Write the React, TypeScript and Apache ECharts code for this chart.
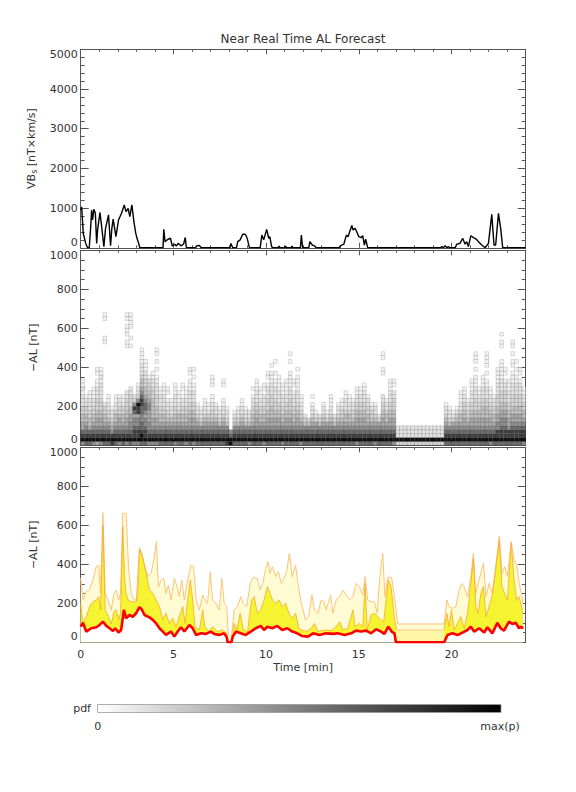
import { useEffect, useRef } from "react";
import * as echarts from "echarts";

// ---------- DATA ----------
// Panel 1: VBs [nT x km/s] vs time [min]
const vbsData: number[][] = [
  [0, 950], [0.05, 1030], [0.14, 360], [0.27, 110], [0.37, 0], [0.46, 0], [0.54, 530], [0.59, 950], [0.64, 700],
  [0.71, 970], [0.79, 870], [0.86, 110], [0.91, 450], [1.04, 890], [1.14, 490], [1.25, 30], [1.34, 490], [1.5, 830],
  [1.61, 50], [1.68, 490], [1.75, 720], [1.9, 280], [2.04, 700], [2.2, 870], [2.35, 1080], [2.44, 910], [2.56, 990],
  [2.65, 785], [2.76, 1080], [2.87, 660], [2.97, 365], [3.05, 220], [3.1, 155], [3.19, 0], [4.44, 0], [4.48, 465],
  [4.55, 155], [4.71, 215], [4.84, 240], [4.94, 45], [5.07, 90], [5.16, 45], [5.25, 110], [5.43, 50], [5.55, 95],
  [5.64, 260], [5.7, 0], [6.2, 0], [6.24, 45], [6.4, 60], [6.5, 0], [8.05, 0], [8.1, 110], [8.2, 0], [8.4, 0],
  [8.47, 155], [8.6, 200], [8.74, 340], [8.85, 340], [8.93, 300], [9.0, 200], [9.1, 0], [9.68, 0], [9.77, 320],
  [9.87, 200], [10.03, 465], [10.14, 240], [10.2, 280], [10.3, 25], [10.4, 0], [10.65, 0], [10.7, 40], [10.75, 0],
  [11.0, 0], [11.05, 40], [11.1, 0], [11.35, 0], [11.4, 40], [11.45, 0], [11.85, 0], [11.9, 320], [11.97, 0],
  [12.3, 0], [12.36, 155], [12.49, 70], [12.6, 50], [12.7, 0], [13.95, 0], [14.0, 50], [14.19, 90], [14.33, 320],
  [14.42, 280], [14.5, 390], [14.62, 560], [14.69, 450], [14.8, 490], [14.9, 390], [15.0, 280], [15.12, 255],
  [15.21, 305], [15.3, 70], [15.37, 220], [15.48, 0], [19.4, 0], [19.48, 30], [19.56, 0], [19.66, 50], [19.75, 0],
  [19.84, 30], [19.9, 0], [20.2, 0], [20.28, 90], [20.46, 110], [20.6, 240], [20.73, 90], [20.82, 155], [20.91, 30],
  [21.04, 305], [21.18, 255], [21.33, 220], [21.45, 155], [21.63, 70], [21.81, 0], [21.99, 110], [22.17, 843],
  [22.29, 70], [22.38, 70], [22.53, 868], [22.65, 490], [22.76, 0], [24, 0],
];

// Panel 2: pdf of -AL. One string per 0.2-min column, one char per 20-nT bin (bottom first), 1..9 = density, space = empty
const PDF_DT = 0.2;
const PDF_DV = 20;
const pdfColumns: string[] = [
  "69875544332221211", "7987654433221", "79875443322211", "698765443322111", "59876554433322211 11",
  "69876554433322221211", "79876544332               11    11", "7987654332211", "8986543221", "7987654432211",
  "6987655433221", "7987654433211", "69876554433322           11 111 11", "798766554433322          1 1  1111", "6988766578632",
  "6988766588963221", "7998776677887654432221111", "7988766567765443322111", "698766555665443321", "6987655444443332211",
  "698765544433322211 1 1 11", "798765443322211", "7987654433222111", "798765433221 11", "798765432211",
  "6987654433222111", "79876544322111", "7987654433221 11", "698765443322111", "79876554433222111 11",
  "6987655443322211 1 1", "79876543221", "7987643221", "798765432211", "79876543211",
  "7987654332211  111", "79876543221", "7987643221", "798765432211   11", "8987643221",
  "9976", "798764321", "7987643221", "798765432211", "7987643221",
  "698764322", "7987654433221 1", "79876554433222111", "798765443322111", "6987654433222 11",
  "7987655443332221 11", "7987655444333222111 1", "79876554433322211 1  1", "798765544332221111", "6987654433222111",
  "79876554433221111", "7987655443332221111  1 1", "79876544332221 11", "798765544332221111 1", "6987654332211",
  "79876432", "7987643", "79876543221 1", "798765321", "79876432",
  "79876543221", "798765321", "7987654322111", "79876432", "79876543221",
  "798765433211", "79876544322211", "7987654432211", "798765433221", "698765544332211",
  "798765544332211", "7987655443322211", "7987654433221", "79876543321", "69876543221",
  "79876532", "7987655443322     11  11", "798765443221", "79876554433222111", "69876554433322 11",
  "39222", "39222", "39222", "39222", "39222",
  "39222", "39222", "39222", "39222", "39222",
  "39222", "39222", "39222", "79876543221", "7987643221",
  "798765321", "7987654321", "79876544322111", "798765544332211", "798765433221",
  "79876554433222111", "798765544333222111 1 111", "798765544332211", "798765544433222111", "79876554443322211 1 1111",
  "698765544332211", "7987654433221", "79886655443332221111", "7988766554433322211111   11 1", "79887665544333221 11",
  "79886554433222111", "7988765544333222111 11 1 11", "798876554433322211 1 1", "79887655443332221 11", "698876544332211",
];
// grey level for density 0..9
const PDF_GREYS = [255, 242, 228, 212, 192, 168, 140, 105, 62, 15];

// Panel 3: -AL forecast bands
const alPale: number[][] = [
  [0.0, 330], [0.13, 217], [0.3, 260], [0.48, 272], [0.66, 320], [0.84, 388], [0.97, 396], [1.07, 251], [1.2, 665],
  [1.32, 251], [1.47, 217], [1.65, 166], [1.79, 251], [1.92, 268], [2.04, 217], [2.15, 251], [2.27, 662], [2.45, 662],
  [2.58, 388], [2.72, 251], [2.9, 217], [3.08, 217], [3.17, 482], [3.3, 456], [3.44, 396], [3.62, 337], [3.8, 354],
  [3.94, 422], [4.08, 516], [4.19, 285], [4.34, 320], [4.48, 328], [4.6, 251], [4.73, 294], [4.87, 217], [5.05, 328],
  [5.2, 285], [5.32, 234], [5.45, 320], [5.59, 217], [5.73, 302], [5.95, 396], [6.09, 388], [6.23, 217], [6.4, 166],
  [6.58, 243], [6.7, 217], [6.84, 200], [6.99, 362], [7.11, 217], [7.29, 200], [7.47, 166], [7.61, 328], [7.74, 200],
  [7.88, 183], [7.95, 46], [8.13, 29], [8.28, 166], [8.46, 183], [8.63, 234], [8.78, 200], [8.96, 183], [9.14, 302],
  [9.32, 333], [9.53, 328], [9.68, 268], [9.82, 302], [9.98, 380], [10.11, 413], [10.21, 354], [10.34, 388],
  [10.52, 337], [10.66, 362], [10.82, 302], [10.97, 328], [11.11, 362], [11.25, 456], [11.41, 337], [11.59, 396],
  [11.72, 302], [11.9, 200], [12.04, 150], [12.11, 115], [12.29, 132], [12.47, 243], [12.61, 166], [12.79, 149],
  [12.97, 217], [13.12, 208], [13.24, 166], [13.48, 243], [13.6, 149], [13.78, 217], [13.96, 234], [14.14, 268],
  [14.32, 243], [14.5, 217], [14.68, 234], [14.86, 302], [15.03, 285], [15.21, 243], [15.34, 337], [15.48, 217],
  [15.66, 208], [15.84, 208], [15.99, 149], [16.13, 337], [16.29, 456], [16.41, 234], [16.56, 333], [16.77, 333],
  [16.92, 234], [17.1, 94], [19.6, 94], [19.75, 217], [19.87, 183], [20.05, 174], [20.23, 183], [20.41, 268],
  [20.53, 302], [20.68, 285], [20.86, 234], [21.04, 337], [21.18, 456], [21.31, 251], [21.43, 302], [21.58, 354],
  [21.72, 405], [21.86, 234], [22.02, 302], [22.2, 251], [22.38, 388], [22.58, 545], [22.72, 354], [22.87, 388],
  [23.01, 337], [23.22, 516], [23.37, 422], [23.51, 396], [23.64, 311], [23.78, 243], [23.85, 200],
];
const alYellowA: number[][] = [
  [0.0, 200], [0.12, 97], [0.3, 132], [0.48, 183], [0.66, 208], [0.84, 217], [0.97, 234], [1.07, 166], [1.2, 600],
  [1.32, 166], [1.5, 132], [1.65, 94], [1.79, 157], [1.92, 166], [2.04, 115], [2.15, 149], [2.27, 593], [2.37, 320],
  [2.45, 251], [2.55, 217], [2.72, 208], [3.0, 208], [3.17, 482], [3.35, 430], [3.53, 354], [3.71, 268], [3.89, 251],
  [4.07, 217], [4.25, 183], [4.43, 115], [4.6, 149], [4.78, 97], [4.96, 123], [5.14, 80], [5.32, 132], [5.5, 183],
  [5.63, 97], [5.77, 217], [5.91, 320], [6.04, 217], [6.16, 80], [6.4, 63], [6.58, 166], [6.7, 80], [6.93, 55],
  [7.11, 80], [7.38, 55], [7.65, 63], [7.88, 46], [7.95, 0], [8.13, 0], [8.28, 97], [8.42, 63], [8.6, 149], [8.78, 63],
  [9.0, 55], [9.21, 217], [9.35, 234], [9.53, 149], [9.71, 166], [9.89, 217], [10.07, 285], [10.21, 251], [10.34, 217],
  [10.52, 200], [10.7, 217], [10.87, 183], [11.05, 200], [11.23, 149], [11.41, 123], [11.59, 149], [11.77, 72],
  [11.9, 63], [12.17, 55], [12.44, 72], [12.61, 97], [12.79, 55], [13.15, 63], [13.51, 60], [13.78, 80], [13.96, 106],
  [14.14, 63], [14.41, 72], [14.68, 166], [14.8, 80], [15.03, 97], [15.21, 80], [15.34, 302], [15.45, 63], [15.66, 140],
  [15.84, 149], [16.02, 132], [16.2, 115], [16.34, 106], [16.59, 320], [16.74, 285], [16.92, 123], [17.03, 63],
];
const alYellowB: number[][] = [
  [19.6, 63], [19.75, 149], [19.87, 80], [20.0, 166], [20.14, 63], [20.32, 97], [20.5, 132], [20.68, 72], [20.86, 149],
  [21.04, 302], [21.18, 430], [21.31, 183], [21.43, 149], [21.58, 251], [21.72, 285], [21.86, 132], [22.02, 183],
  [22.2, 243], [22.38, 371], [22.58, 525], [22.72, 285], [22.87, 251], [23.01, 217], [23.22, 508], [23.37, 320],
  [23.51, 217], [23.64, 234], [23.78, 183], [23.85, 150],
];
const alGapBand: number[][] = [[17.03, 63], [19.6, 63]];
const alRed: number[][] = [
  [0.0, 80], [0.12, 100], [0.3, 55], [0.57, 72], [0.84, 77], [1.02, 89], [1.2, 106], [1.38, 84], [1.56, 72], [1.74, 58],
  [1.86, 72], [2.04, 50], [2.18, 63], [2.33, 166], [2.45, 123], [2.63, 140], [2.81, 131], [2.99, 149], [3.17, 180],
  [3.29, 169], [3.44, 140], [3.71, 128], [3.89, 115], [4.07, 97], [4.25, 72], [4.43, 55], [4.6, 38], [4.87, 55],
  [5.05, 29], [5.23, 55], [5.41, 77], [5.59, 55], [5.86, 89], [6.04, 72], [6.22, 38], [6.49, 46], [6.75, 43], [7.02, 55],
  [7.2, 43], [7.47, 38], [7.74, 46], [7.88, 25], [7.92, 0], [8.13, 0], [8.2, 29], [8.37, 55], [8.63, 46], [8.9, 38],
  [9.17, 55], [9.44, 72], [9.71, 84], [9.89, 63], [10.07, 80], [10.34, 72], [10.6, 84], [10.87, 63], [11.14, 72],
  [11.41, 55], [11.68, 46], [11.95, 32], [12.26, 29], [12.53, 46], [12.88, 37], [13.24, 46], [13.6, 43], [13.87, 46],
  [14.23, 37], [14.59, 46], [14.85, 60], [15.12, 55], [15.39, 60], [15.66, 46], [15.93, 67], [16.2, 55], [16.38, 43],
  [16.59, 80], [16.77, 55], [16.92, 46], [17.0, 0], [19.6, 0], [19.78, 37], [20.05, 46], [20.32, 37], [20.59, 50],
  [20.86, 63], [21.04, 80], [21.22, 55], [21.49, 72], [21.76, 50], [21.93, 77], [22.2, 46], [22.47, 100], [22.65, 72],
  [22.83, 60], [23.1, 106], [23.28, 94], [23.46, 100], [23.64, 72], [23.77, 80], [23.85, 70],
];

// Axis ranges / ticks
const TIME_MAX = 24;
const TIME_STEP = 5;
const TIME_LABELS = [0, 5, 10, 15, 20];
const VBS_MAX = 5000;
const VBS_STEP = 1000;
const AL_MAX = 1000;
const AL_STEP = 200;
const TIME_TITLE = "Time [min]";

// ---------- CHART ----------
const FONT = "DejaVu Sans";
const AXC = "#555";
const TXT = "#333";

const pdfCells: number[][] = [];
pdfColumns.forEach((col, i) => {
  for (let j = 0; j < col.length; j++) {
    const ch = col[j];
    if (ch !== " ") pdfCells.push([i * PDF_DT, j * PDF_DV, Number(ch)]);
  }
});

function xAxisCfg(gridIndex: number, position: "top" | "bottom", labels: boolean) {
  return {
    type: "value",
    gridIndex,
    position,
    min: 0,
    max: TIME_MAX,
    interval: TIME_STEP,
    axisLine: { show: true, onZero: false, lineStyle: { color: AXC, width: 1 } },
    axisTick: { show: true, inside: true, length: 5, lineStyle: { color: AXC, width: 1 } },
    minorTick: { show: true, splitNumber: 5, length: 2.5, lineStyle: { color: AXC, width: 1 } },
    splitLine: { show: false },
    axisLabel: labels
      ? {
          show: true,
          margin: 7,
          fontSize: 11,
          color: TXT,
          fontFamily: FONT,
          formatter: (v: number) => (TIME_LABELS.includes(v) ? String(v) : ""),
        }
      : { show: false },
    ...(labels
      ? {
          name: TIME_TITLE,
          nameLocation: "middle",
          nameGap: 20,
          nameTextStyle: { fontSize: 11, color: TXT, fontFamily: FONT },
        }
      : {}),
  };
}

function yAxisCfg(
  gridIndex: number,
  position: "left" | "right",
  max: number,
  step: number,
  minorSplit: number,
  name?: string,
  rich?: any
) {
  const left = position === "left";
  return {
    type: "value",
    gridIndex,
    position,
    min: 0,
    max,
    interval: step,
    axisLine: { show: true, onZero: false, lineStyle: { color: AXC, width: 1 } },
    axisTick: { show: true, inside: true, length: 8, lineStyle: { color: AXC, width: 1 } },
    minorTick: { show: true, splitNumber: minorSplit, length: 4, lineStyle: { color: AXC, width: 1 } },
    splitLine: { show: false },
    axisLabel: left
      ? {
          show: true,
          margin: 3,
          fontSize: 11,
          color: TXT,
          fontFamily: FONT,
          formatter: (v: number) => String(v),
          verticalAlignMinLabel: "bottom",
          verticalAlignMaxLabel: "top",
        }
      : { show: false },
    ...(left && name
      ? {
          name,
          nameLocation: "middle",
          nameGap: 34,
          nameRotate: 90,
          nameTextStyle: { fontSize: 11, color: TXT, fontFamily: FONT, rich },
        }
      : {}),
  };
}

export default function App() {
  const ref = useRef<HTMLDivElement>(null);

  useEffect(() => {
    if (!ref.current) return;
    const chart = echarts.init(ref.current, undefined, { renderer: "svg" });

    const grids = [
      { left: 80.7, top: 49.3, width: 445, height: 198.5 },
      { left: 80.7, top: 250.3, width: 445, height: 195 },
      { left: 80.7, top: 447.3, width: 445, height: 195 },
    ].map((g) => ({ ...g, outerBoundsMode: "none", containLabel: false }));

    const lineBase = { type: "line", symbol: "none", showSymbol: false, silent: true, xAxisIndex: 2, yAxisIndex: 2 };

    const option: any = {
      animation: false,
      backgroundColor: "#ffffff",
      grid: grids,
      xAxis: [
        xAxisCfg(0, "bottom", false),
        xAxisCfg(1, "bottom", false),
        xAxisCfg(2, "bottom", true),
        xAxisCfg(0, "top", false),
        xAxisCfg(1, "top", false),
        xAxisCfg(2, "top", false),
      ],
      yAxis: [
        yAxisCfg(0, "left", VBS_MAX, VBS_STEP, 5, "VB{s|s} [nT×km/s]", {
          s: { fontSize: 8, color: TXT, fontFamily: FONT, verticalAlign: "bottom", padding: [6, 0, 0, 0] },
        }),
        yAxisCfg(1, "left", AL_MAX, AL_STEP, 4, "−AL [nT]"),
        yAxisCfg(2, "left", AL_MAX, AL_STEP, 4, "−AL [nT]"),
        yAxisCfg(0, "right", VBS_MAX, VBS_STEP, 5),
        yAxisCfg(1, "right", AL_MAX, AL_STEP, 4),
        yAxisCfg(2, "right", AL_MAX, AL_STEP, 4),
      ],
      series: [
        {
          type: "line",
          xAxisIndex: 0,
          yAxisIndex: 0,
          data: vbsData,
          symbol: "none",
          showSymbol: false,
          lineStyle: { color: "#000", width: 1.4 },
          silent: true,
        },
        {
          type: "custom",
          xAxisIndex: 1,
          yAxisIndex: 1,
          coordinateSystem: "cartesian2d",
          data: pdfCells,
          encode: { x: 0, y: 1 },
          clip: true,
          silent: true,
          renderItem: (_params: any, api: any) => {
            const t = api.value(0);
            const v = api.value(1);
            const d = api.value(2);
            const p0 = api.coord([t, v + PDF_DV]);
            const p1 = api.coord([t + PDF_DT, v]);
            const g = PDF_GREYS[d] ?? 255;
            return {
              type: "rect",
              shape: { x: p0[0], y: p0[1], width: p1[0] - p0[0], height: p1[1] - p0[1] },
              style: { fill: `rgb(${g},${g},${g})`, stroke: "rgba(0,0,0,0.25)", lineWidth: 0.5 },
            };
          },
        },
        {
          ...lineBase,
          data: alPale,
          lineStyle: { color: "#FFC27A", width: 1 },
          areaStyle: { color: "#FFFBD2", opacity: 1 },
        },
        {
          ...lineBase,
          data: alYellowA,
          lineStyle: { color: "#F6A834", width: 0.8 },
          areaStyle: { color: "#F4F430", opacity: 1 },
        },
        {
          ...lineBase,
          data: alYellowB,
          lineStyle: { color: "#F6A834", width: 0.8 },
          areaStyle: { color: "#F4F430", opacity: 1 },
        },
        {
          ...lineBase,
          data: alGapBand,
          lineStyle: { color: "#FFC27A", width: 0.8 },
          areaStyle: { color: "#FFF7A6", opacity: 1 },
        },
        {
          ...lineBase,
          data: alRed,
          lineStyle: { color: "#FF0000", width: 2.6 },
          areaStyle: { color: "#FFFFFF", opacity: 1 },
        },
      ],
      graphic: [
        {
          type: "text",
          x: 303,
          y: 39,
          style: {
            text: "Near Real Time AL Forecast",
            fill: TXT,
            font: `12px '${FONT}'`,
            textAlign: "center",
            textVerticalAlign: "middle",
          },
        },
        {
          type: "rect",
          shape: { x: 97.5, y: 704.5, width: 403.5, height: 8 },
          style: {
            fill: new echarts.graphic.LinearGradient(0, 0, 1, 0, [
              { offset: 0, color: "#ffffff" },
              { offset: 1, color: "#000000" },
            ]),
            stroke: "#999",
            lineWidth: 0.8,
          },
        },
        {
          type: "text",
          x: 91,
          y: 708,
          style: { text: "pdf", fill: TXT, font: `11px '${FONT}'`, textAlign: "right", textVerticalAlign: "middle" },
        },
        {
          type: "text",
          x: 97.7,
          y: 726,
          style: { text: "0", fill: TXT, font: `11px '${FONT}'`, textAlign: "center", textVerticalAlign: "middle" },
        },
        {
          type: "text",
          x: 500,
          y: 726,
          style: { text: "max(p)", fill: TXT, font: `11px '${FONT}'`, textAlign: "center", textVerticalAlign: "middle" },
        },
      ],
    };

    chart.setOption(option);
    return () => chart.dispose();
  }, []);

  return (
    <div
      ref={ref}
      style={{ position: "absolute", left: 0, top: 0, width: 576, height: 792, background: "#fff" }}
    />
  );
}
